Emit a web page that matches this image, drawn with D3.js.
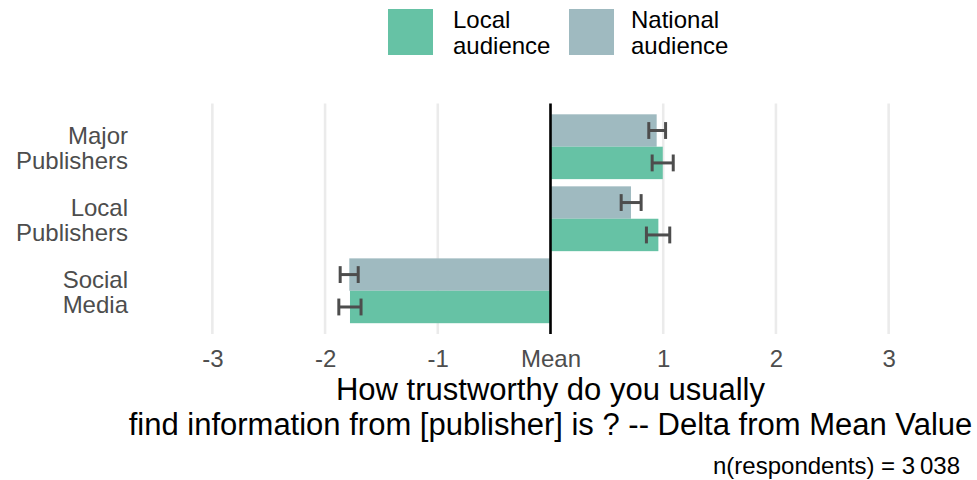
<!DOCTYPE html>
<html>
<head>
<meta charset="utf-8">
<script src="https://cdn.jsdelivr.net/npm/d3@7"></script>
<style>
  html, body { margin: 0; padding: 0; background: #fff; }
  svg { display: block; font-family: "Liberation Sans", Arial, Helvetica, sans-serif; }
</style>
</head>
<body>
<svg id="chart" width="977" height="480"></svg>
<script>
// Publisher categories, top to bottom
const categories = [["Major", "Publishers"], ["Local", "Publishers"], ["Social", "Media"]];
const categoryKeys = ["Major Publishers", "Local Publishers", "Social Media"];

// Audience series (drawn top to bottom within each group)
const audiences = ["National audience", "Local audience"];
const legendLabels = [["Local", "audience"], ["National", "audience"]];
const legendOrder = ["Local audience", "National audience"];

// Delta from mean trust, with interval bounds
const nationalValues = [0.942, 0.714, -1.785];
const nationalLow    = [0.872, 0.627, -1.866];
const nationalHigh   = [1.021, 0.804, -1.706];
const localValues    = [0.996, 0.957, -1.779];
const localLow       = [0.902, 0.851, -1.878];
const localHigh      = [1.089, 1.058, -1.681];

const xTicks = [-3, -2, -1, 0, 1, 2, 3];
const xTickLabels = ["-3", "-2", "-1", "Mean", "1", "2", "3"];

const axisTitle = ["How trustworthy do you usually",
                   "find information from [publisher] is ? -- Delta from Mean Value"];
const caption = "n(respondents) = 3\u2009038";

const colors = { "Local audience": "#66c2a5", "National audience": "#9fbac0" };

const rows = [];
categoryKeys.forEach((c, i) => {
  rows.push({ cat: c, aud: "National audience", v: nationalValues[i], lo: nationalLow[i], hi: nationalHigh[i] });
  rows.push({ cat: c, aud: "Local audience", v: localValues[i], lo: localLow[i], hi: localHigh[i] });
});

const svg = d3.select("#chart");

const panel = { top: 103.5, bottom: 334 };
const x = d3.scaleLinear().domain([-3.65, 3.65]).range([139.1, 961.9]);
const y = d3.scalePoint().domain(categoryKeys).range([panel.top, panel.bottom]).padding(0.6);
const groupH = y.step() * 0.9;
const sub = d3.scaleBand().domain(audiences).range([-groupH / 2, groupH / 2]);

// Gridlines
svg.append("g").selectAll("line").data(xTicks).join("line")
  .attr("x1", d => x(d)).attr("x2", d => x(d))
  .attr("y1", panel.top).attr("y2", panel.bottom)
  .attr("stroke", "#ebebeb").attr("stroke-width", 2.6);

// Bars
svg.append("g").selectAll("rect").data(rows).join("rect")
  .attr("x", d => Math.min(x(0), x(d.v)))
  .attr("width", d => Math.abs(x(d.v) - x(0)))
  .attr("y", d => y(d.cat) + sub(d.aud))
  .attr("height", sub.bandwidth())
  .attr("fill", d => colors[d.aud]);

// Zero reference line
svg.append("line")
  .attr("x1", x(0)).attr("x2", x(0))
  .attr("y1", panel.top).attr("y2", panel.bottom)
  .attr("stroke", "#000").attr("stroke-width", 2.6);

// Interval whiskers
const capH = sub.bandwidth() * 0.52;
const eb = svg.append("g").attr("stroke", "#4d4d4d").attr("stroke-width", 3).attr("fill", "none");
rows.forEach(d => {
  const cy = y(d.cat) + sub(d.aud) + sub.bandwidth() / 2;
  eb.append("line").attr("x1", x(d.lo)).attr("x2", x(d.hi)).attr("y1", cy).attr("y2", cy);
  eb.append("line").attr("x1", x(d.lo)).attr("x2", x(d.lo)).attr("y1", cy - capH / 2).attr("y2", cy + capH / 2);
  eb.append("line").attr("x1", x(d.hi)).attr("x2", x(d.hi)).attr("y1", cy - capH / 2).attr("y2", cy + capH / 2);
});

// X tick labels
const xAxis = d3.axisBottom(x).tickValues(xTicks).tickSize(0).tickPadding(0)
  .tickFormat((d, i) => xTickLabels[i]);
const gx = svg.append("g").attr("transform", "translate(0,367)").call(xAxis);
gx.select(".domain").remove();
gx.selectAll("text").attr("dy", 0).attr("y", 0)
  .attr("font-size", 24).attr("fill", "#4d4d4d")
  .attr("font-family", "'Liberation Sans', Arial, sans-serif");

// Y category labels
const gy = svg.append("g");
categoryKeys.forEach((c, i) => {
  const t = gy.append("text").attr("text-anchor", "end")
    .attr("font-size", 24).attr("fill", "#4d4d4d");
  categories[i].forEach((line, j) => {
    t.append("tspan").attr("x", 128).attr("y", y(c) - 3 + j * 25).text(line);
  });
});

// Axis title
const title = svg.append("text").attr("text-anchor", "middle")
  .attr("font-size", 31).attr("fill", "#000");
axisTitle.forEach((line, j) => {
  title.append("tspan").attr("x", (x.range()[0] + x.range()[1]) / 2).attr("y", 400 + j * 34.5).text(line);
});

// Caption
svg.append("text").attr("x", 960).attr("y", 474).attr("text-anchor", "end")
  .attr("font-size", 24).attr("fill", "#000").text(caption);

// Legend
const legendX = [388, 569];
legendOrder.forEach((k, i) => {
  const g = svg.append("g").attr("transform", `translate(${legendX[i]},9)`);
  g.append("rect").attr("width", 45).attr("height", 46).attr("fill", colors[k]);
  const t = g.append("text").attr("font-size", 24).attr("fill", "#000");
  legendLabels[i].forEach((line, j) => {
    t.append("tspan").attr("x", i === 0 ? 65 : 62).attr("y", 19 + j * 26).text(line);
  });
});
</script>
</body>
</html>
